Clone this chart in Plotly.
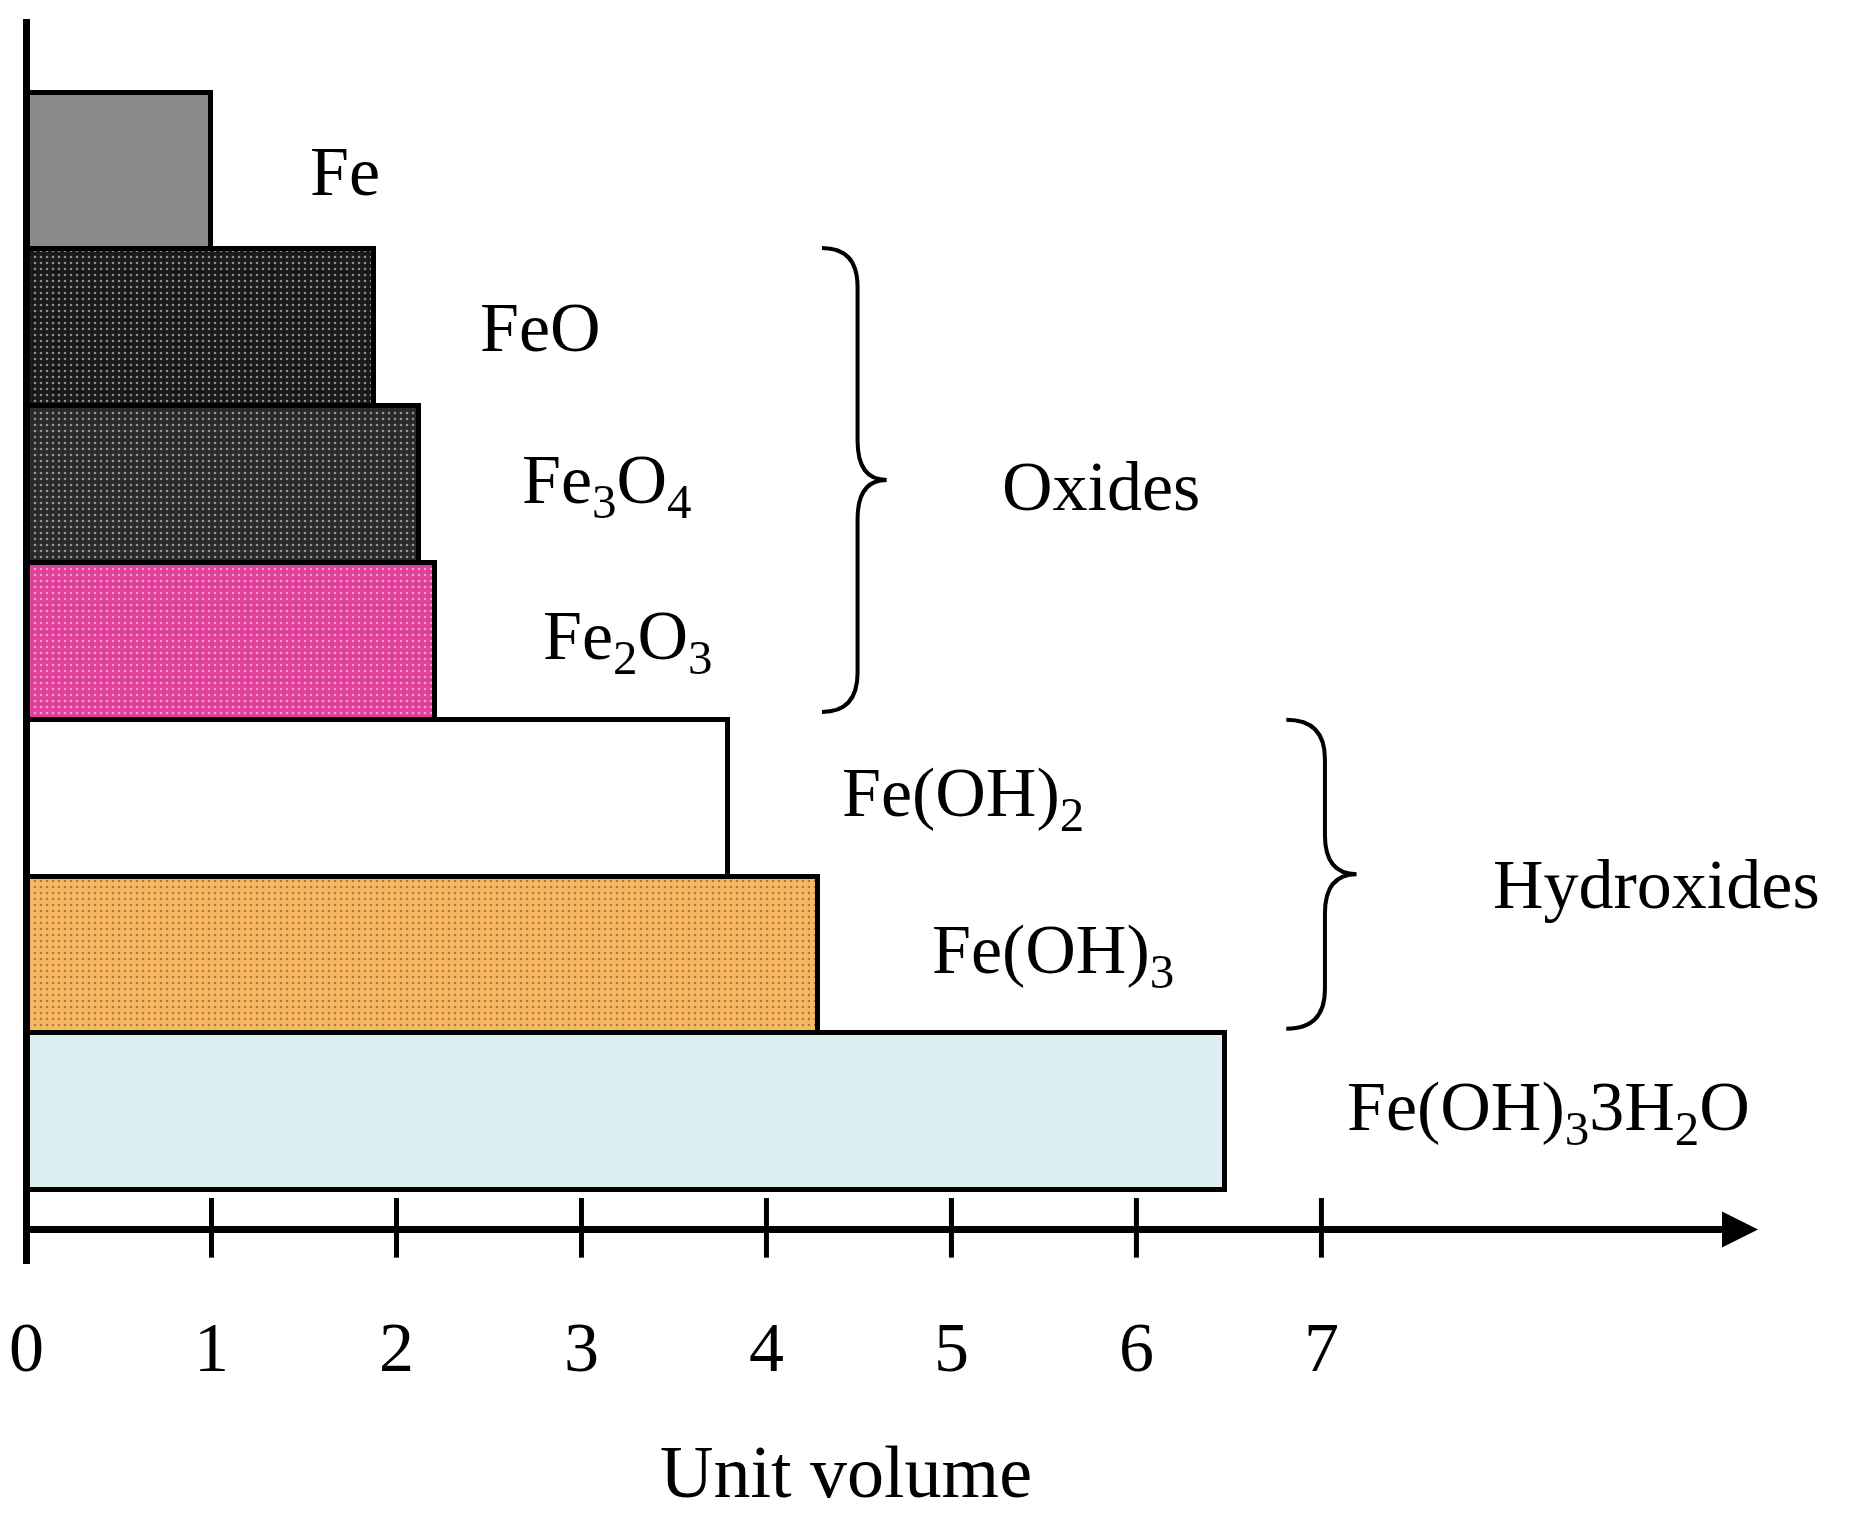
import plotly.graph_objects as go

names = ["Fe", "FeO", "Fe<sub>3</sub>O<sub>4</sub>", "Fe<sub>2</sub>O<sub>3</sub>",
         "Fe(OH)<sub>2</sub>", "Fe(OH)<sub>3</sub>", "Fe(OH)<sub>3</sub>3H<sub>2</sub>O"]
volumes = [1.0, 1.88, 2.12, 2.21, 3.79, 4.28, 6.48]
colors = ["#8a8a8a", "#1a1a1a", "#2a2a2a", "#e0409a", "#ffffff", "#f9b860", "#dbeef0"]
patterns = ["", ".", ".", ".", "", ".", ""]
label_x = [1.72, 2.78, 3.14, 3.25, 5.06, 5.55, 8.23]
ticks = [0, 1, 2, 3, 4, 5, 6, 7]

rows = list(range(len(volumes)))
font = "Liberation Serif"

fig = go.Figure(go.Bar(
    x=volumes, y=rows, orientation="h", width=1,
    marker=dict(color=colors, line=dict(color="black", width=5),
                pattern=dict(shape=patterns, fgcolor="#777777", size=6, solidity=0.15)),
    showlegend=False, hoverinfo="skip"))

shapes = [
    dict(type="line", x0=0, x1=0, y0=-0.97, y1=6.97, line=dict(color="black", width=7)),
    dict(type="line", x0=0, x1=9.2, y0=6.75, y1=6.75, line=dict(color="black", width=7)),
]
for t in ticks[1:]:
    shapes.append(dict(type="line", x0=t, x1=t, y0=6.55, y1=6.93, line=dict(color="black", width=5)))


def brace(x0, x2, ytop, ybot):
    ymid = (ytop + ybot) / 2
    x1 = x0 + 0.55 * (x2 - x0)
    d = 0.25
    return (f"M {x0},{ytop} Q {x1},{ytop} {x1},{ytop + d} L {x1},{ymid - d} "
            f"Q {x1},{ymid} {x2},{ymid} Q {x1},{ymid} {x1},{ymid + d} "
            f"L {x1},{ybot - d} Q {x1},{ybot} {x0},{ybot}")


shapes.append(dict(type="path", path=brace(4.30, 4.65, 0.49, 3.45), line=dict(color="black", width=4)))
shapes.append(dict(type="path", path=brace(6.81, 7.19, 3.50, 5.47), line=dict(color="black", width=4)))

big = dict(size=70, family=font, color="black")
ann = []
for r, n, lx in zip(rows, names, label_x):
    ann.append(dict(x=lx, y=r, text=n, showarrow=False, font=big))
for t in ticks:
    ann.append(dict(x=t, y=7.50, text=str(t), showarrow=False, font=big))
ann.append(dict(x=4.43, y=8.30, text="Unit volume", showarrow=False, font=dict(size=74, family=font, color="black")))
ann.append(dict(x=5.81, y=2.01, text="Oxides", showarrow=False, font=big))
ann.append(dict(x=8.81, y=4.55, text="Hydroxides", showarrow=False, font=big))
# arrow head
ann.append(dict(x=9.36, y=6.75, ax=9.0, ay=6.75, axref="x", ayref="y", text="", showarrow=True,
                arrowhead=2, arrowsize=1.2, arrowwidth=6, arrowcolor="black"))

fig.update_layout(
    width=1861, height=1535, margin=dict(l=0, r=0, t=0, b=0),
    plot_bgcolor="white", paper_bgcolor="white", bargap=0,
    xaxis=dict(range=[-0.10, 9.96], visible=False),
    yaxis=dict(range=[8.75, -1.04], visible=False),
    shapes=shapes, annotations=ann)

fig.write_html("out.html")
